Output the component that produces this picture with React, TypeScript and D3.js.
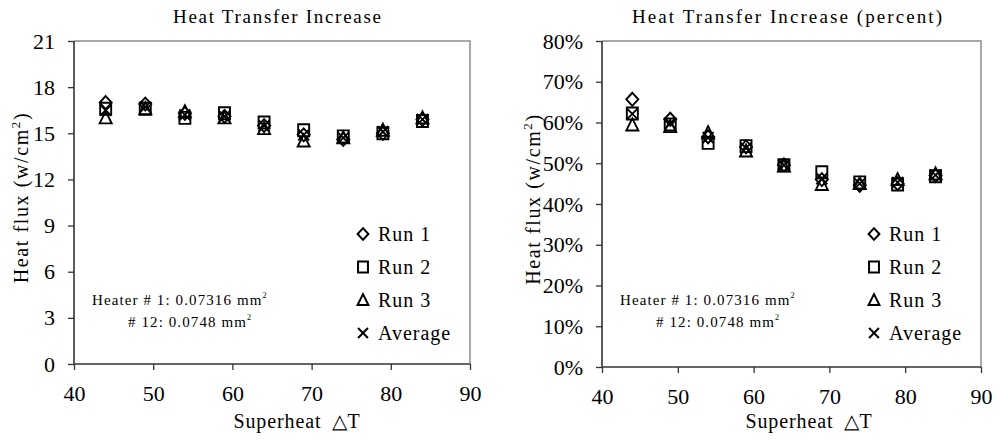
import React, { useEffect, useRef } from 'react';
import * as d3 from 'd3';

// superheat values (x) shared by both panels
const superheat = [44, 49, 54, 59, 64, 69, 74, 79, 84];

// left panel: heat flux w/cm^2
const fluxRun1 = [17.0, 16.9, 16.3, 16.1, 15.5, 14.9, 14.6, 15.0, 15.9];
const fluxRun2 = [16.6, 16.6, 16.0, 16.3, 15.7, 15.2, 14.8, 15.0, 15.8];
const fluxRun3 = [16.0, 16.6, 16.4, 16.0, 15.3, 14.5, 14.7, 15.2, 16.0];
const fluxAvg = [16.5, 16.7, 16.2, 16.1, 15.5, 14.9, 14.7, 15.1, 15.9];

// right panel: percent increase
const pctRun1 = [65.7, 60.8, 56.5, 54.0, 49.6, 46.0, 44.6, 45.0, 47.0];
const pctRun2 = [62.2, 59.5, 55.0, 54.2, 49.5, 47.8, 45.3, 44.8, 46.8];
const pctRun3 = [59.4, 59.0, 57.5, 53.0, 49.3, 44.8, 45.0, 46.0, 47.4];
const pctAvg = [62.1, 59.8, 56.3, 53.7, 49.5, 46.2, 45.0, 45.3, 47.1];

const seriesNames = ['Run 1', 'Run 2', 'Run 3', 'Average'];
const markerTypes = ['diamond', 'square', 'triangle', 'x'];
const xTicks = [40, 50, 60, 70, 80, 90];
const fluxTicks = [0, 3, 6, 9, 12, 15, 18, 21];
const pctTicks = [0, 10, 20, 30, 40, 50, 60, 70, 80];

const FONT = "'Liberation Serif', 'Times New Roman', Times, serif";

const markerPath = (type, s = 1) => {
  const p = d3.path();
  if (type === 'diamond') {
    p.moveTo(0, -6.5 * s); p.lineTo(6 * s, 0); p.lineTo(0, 6.5 * s); p.lineTo(-6 * s, 0); p.closePath();
  } else if (type === 'square') {
    p.rect(-5.5 * s, -6 * s, 11 * s, 12 * s);
  } else if (type === 'triangle') {
    p.moveTo(0, -6.5 * s); p.lineTo(6 * s, 5.5 * s); p.lineTo(-6 * s, 5.5 * s); p.closePath();
  } else {
    p.moveTo(-5.5 * s, -5.5 * s); p.lineTo(5.5 * s, 5.5 * s); p.moveTo(5.5 * s, -5.5 * s); p.lineTo(-5.5 * s, 5.5 * s);
  }
  return p.toString();
};

const drawPanel = (svg, cfg) => {
  const { left, right, top, bottom, yMax, yTicks, yFmt, series, title, titleX, titleW, yTitleX, xTitleX } = cfg;
  const x = d3.scaleLinear().domain([40, 90]).range([left, right]);
  const y = d3.scaleLinear().domain([0, yMax]).range([bottom, top]);
  const g = svg.append('g').attr('font-family', FONT);

  // border (top & right, light gray)
  g.append('path')
    .attr('d', `M${left},${top}H${right}V${bottom}`)
    .attr('fill', 'none')
    .attr('stroke', '#8c8c8c')
    .attr('stroke-width', 1.5);

  const yAxis = g.append('g')
    .attr('transform', `translate(${left},0)`)
    .call(d3.axisLeft(y).tickValues(yTicks).tickFormat(yFmt).tickSize(6).tickPadding(13));
  const xAxis = g.append('g')
    .attr('transform', `translate(0,${bottom})`)
    .call(d3.axisBottom(x).tickValues(xTicks).tickSize(6).tickPadding(15));
  [yAxis, xAxis].forEach((a) => {
    a.attr('font-family', FONT).attr('font-size', 22);
    a.select('.domain').attr('stroke', '#333').attr('stroke-width', 1.6);
    a.selectAll('.tick line').attr('stroke', '#333').attr('stroke-width', 1.3);
    a.selectAll('.tick text').attr('fill', '#000');
  });
  yAxis.select('.domain').attr('d', `M0,${bottom}V${top}`);
  xAxis.select('.domain').attr('d', `M${left},0H${right}`);

  g.append('text')
    .attr('x', titleX).attr('y', 23)
    .attr('text-anchor', 'middle')
    .attr('textLength', titleW).attr('lengthAdjust', 'spacing')
    .attr('font-size', 19)
    .text(title);

  const xt = g.append('text')
    .attr('x', xTitleX).attr('y', 428)
    .attr('text-anchor', 'middle')
    .attr('letter-spacing', 0.9)
    .attr('font-size', 20);
  xt.append('tspan').text('Superheat');
  xt.append('tspan').attr('dx', 10).text('△T');

  const yt = g.append('text')
    .attr('transform', `translate(${yTitleX},${(top + bottom) / 2 - 5}) rotate(-90)`)
    .attr('text-anchor', 'middle')
    .attr('letter-spacing', 1.6)
    .attr('font-size', 20);
  yt.append('tspan').text('Heat flux (w/cm');
  yt.append('tspan').attr('dy', -8).attr('font-size', 13).text('2');
  yt.append('tspan').attr('dy', 8).text(')');

  // annotation
  const ann = g.append('g').attr('font-size', 15).attr('letter-spacing', 1.1);
  const a1 = ann.append('text').attr('x', left + 18).attr('y', 305);
  a1.append('tspan').text('Heater # 1: 0.07316 mm');
  a1.append('tspan').attr('dy', -7).attr('font-size', 8).text('2');
  const a2 = ann.append('text').attr('x', left + 54).attr('y', 327);
  a2.append('tspan').text('# 12: 0.0748 mm');
  a2.append('tspan').attr('dy', -7).attr('font-size', 8).text('2');

  // data markers
  series.forEach((vals, i) => {
    g.append('g')
      .selectAll('path')
      .data(vals)
      .enter()
      .append('path')
      .attr('d', markerPath(markerTypes[i]))
      .attr('transform', (d, j) => `translate(${x(superheat[j])},${y(d)})`)
      .attr('fill', 'none')
      .attr('stroke', '#000')
      .attr('stroke-width', 1.9);
  });

  // legend
  const lg = g.append('g').attr('transform', `translate(${right - 107},234)`);
  seriesNames.forEach((name, i) => {
    const row = lg.append('g').attr('transform', `translate(0,${i * 33})`);
    row.append('path')
      .attr('d', markerPath(markerTypes[i], 0.9))
      .attr('fill', 'none')
      .attr('stroke', '#000')
      .attr('stroke-width', 2);
    row.append('text')
      .attr('x', 15).attr('y', 7)
      .attr('letter-spacing', 1)
      .attr('font-size', 20)
      .text(name);
  });
};

export default function App() {
  const ref = useRef(null);

  useEffect(() => {
    const svg = d3.select(ref.current);
    svg.selectAll('*').remove();

    drawPanel(svg, {
      left: 74, right: 470, top: 41, bottom: 364,
      yMax: 21, yTicks: fluxTicks, yFmt: (d) => `${d}`,
      series: [fluxRun1, fluxRun2, fluxRun3, fluxAvg],
      title: 'Heat Transfer Increase', titleX: 277, titleW: 208, yTitleX: 28, xTitleX: 297,
    });
    drawPanel(svg, {
      left: 602, right: 981, top: 41, bottom: 367,
      yMax: 80, yTicks: pctTicks, yFmt: (d) => `${d}%`,
      series: [pctRun1, pctRun2, pctRun3, pctAvg],
      title: 'Heat Transfer Increase (percent)', titleX: 787, titleW: 310, yTitleX: 540, xTitleX: 809,
    });
  }, []);

  return (
    <svg
      ref={ref}
      width={999}
      height={440}
      style={{ position: 'absolute', left: 0, top: 0, background: '#fff' }}
    />
  );
}
